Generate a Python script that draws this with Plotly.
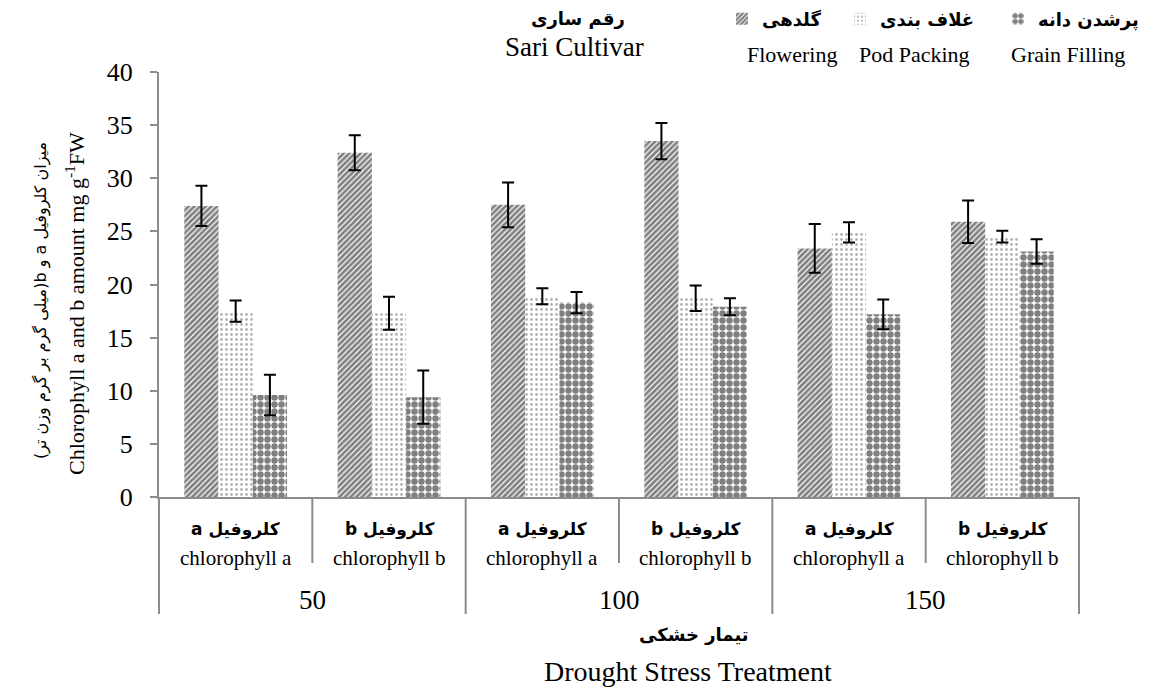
import plotly.graph_objects as go

# ---------------- data ----------------
x_keys = ["50-a", "50-b", "100-a", "100-b", "150-a", "150-b"]
inner_fa = ["کلروفیل a", "کلروفیل b", "کلروفیل a", "کلروفیل b", "کلروفیل a", "کلروفیل b"]
inner_en = ["chlorophyll a", "chlorophyll b", "chlorophyll a", "chlorophyll b", "chlorophyll a", "chlorophyll b"]
outer_labels = ["50", "100", "150"]
outer_pos = [0.5, 2.5, 4.5]

flowering = [27.4, 32.4, 27.5, 33.5, 23.4, 25.9]
flowering_err = [1.9, 1.65, 2.1, 1.7, 2.3, 2.0]
pod = [17.5, 17.3, 18.9, 18.7, 24.9, 24.5]
pod_err = [1.0, 1.55, 0.75, 1.2, 0.95, 0.55]
grain = [9.6, 9.4, 18.3, 17.9, 17.2, 23.1]
grain_err = [1.9, 2.5, 1.0, 0.8, 1.4, 1.15]

series_fa = ["گلدهی", "غلاف بندی", "پرشدن دانه"]
series_en = ["Flowering", "Pod Packing", "Grain Filling"]
y_ticks = [0, 5, 10, 15, 20, 25, 30, 35, 40]

# ---------------- layout helpers ----------------
OFF = 8  # page body margin
W, H = 1154 - OFF, 687 - OFF
ML, MR, MT, MB = 159 - OFF, 75, 72 - OFF, 190
PW, PH = W - ML - MR, H - MT - MB


def px_x(px):
    return (px - OFF - ML) / PW


def px_y(py):
    return (H - MB - (py - OFF)) / PH


SERIF = "Liberation Serif, DejaVu Sans, serif"
FA = "DejaVu Sans, Liberation Serif, serif"
RLE, PDF = "\u202b", "\u202c"

patterns = [
    dict(shape="/", fgcolor="black", bgcolor="white", size=4, solidity=0.7),
    dict(shape=".", fgcolor="#666666", bgcolor="white", size=5, solidity=0.24),
    dict(shape=".", fgcolor="black", bgcolor="white", size=7, solidity=0.66),
]
values = [flowering, pod, grain]
errors = [flowering_err, pod_err, grain_err]
legend_ids = ["legend", "legend2", "legend3"]

fig = go.Figure()
for i in range(3):
    fig.add_trace(go.Bar(
        x=x_keys, y=values[i], name="<b>" + series_fa[i] + "</b>",
        marker=dict(color="white", line=dict(width=0), pattern=patterns[i]),
        error_y=dict(type="data", array=errors[i], color="black", thickness=2, width=6),
        legend=legend_ids[i],
    ))

legend_px = [722, 840, 998]
leg_common = dict(font=dict(family=FA, size=18, color="black"), bgcolor="rgba(0,0,0,0)",
                  yanchor="middle", xanchor="left", y=px_y(19), itemwidth=30)
layout_leg = {}
for i, lid in enumerate(legend_ids):
    layout_leg[lid] = dict(leg_common, x=px_x(legend_px[i]))


def ann(x, y, text, size, family, xref="paper", xanchor="center", angle=0):
    return dict(xref=xref, yref="paper", x=x, y=y, xanchor=xanchor, yanchor="middle",
                showarrow=False, text=text, textangle=angle,
                font=dict(family=family, size=size, color="black"))


annotations = []
# legend english labels
eng_px = [745, 857, 1009]
for i in range(3):
    annotations.append(ann(px_x(eng_px[i]), px_y(55), series_en[i], 22, SERIF, xanchor="left"))
# title
annotations.append(ann(px_x(578), px_y(19), "<b>رقم ساری</b>", 18, FA))
annotations.append(ann(px_x(574), px_y(47), "Sari Cultivar", 27, SERIF))
# category labels
for i, k in enumerate(x_keys):
    annotations.append(ann(k, px_y(529), RLE + "<b>" + inner_fa[i] + "</b>" + PDF, 17, FA, xref="x"))
    annotations.append(ann(k, px_y(558), inner_en[i], 21, SERIF, xref="x"))
for lab, pos in zip(outer_labels, outer_pos):
    annotations.append(ann(pos, px_y(600), lab, 27, SERIF, xref="x"))
# axis titles
annotations.append(ann(px_x(694), px_y(634), "<b>تیمار خشکی</b>", 18, FA))
annotations.append(ann(px_x(688), px_y(671), "Drought Stress Treatment", 28, SERIF))
annotations.append(ann(px_x(41), px_y(300),
                       RLE + "میزان کلروفیل a و b(میلی گرم بر گرم وزن تر)" + PDF, 16, FA, angle=-90))
annotations.append(ann(px_x(75), px_y(304),
                       "Chlorophyll a and b amount mg g<sup>-1</sup>FW", 22, SERIF, angle=-90))

AX = "#8c8c8c"
shapes = []
shapes.append(dict(type="line", xref="paper", yref="paper", x0=0, x1=0, y0=0, y1=px_y(614),
                   line=dict(color=AX, width=2)))
for xv in [0.5, 2.5, 4.5]:
    shapes.append(dict(type="line", xref="x", yref="paper", x0=xv, x1=xv, y0=0, y1=px_y(563),
                       line=dict(color=AX, width=2)))
for xv in [1.5, 3.5]:
    shapes.append(dict(type="line", xref="x", yref="paper", x0=xv, x1=xv, y0=0, y1=px_y(614),
                       line=dict(color=AX, width=2)))
shapes.append(dict(type="line", xref="paper", yref="paper", x0=1, x1=1, y0=0, y1=px_y(614),
                   line=dict(color=AX, width=2)))

fig.update_layout(
    width=W, height=H,
    margin=dict(l=ML, r=MR, t=MT, b=MB, autoexpand=False),
    paper_bgcolor="white", plot_bgcolor="white",
    barmode="group", bargap=0.33, bargroupgap=0,
    showlegend=True,
    annotations=annotations, shapes=shapes,
    xaxis=dict(type="category", range=[-0.5, 5.5], showticklabels=False, ticks="",
               showline=True, linecolor=AX, linewidth=2, showgrid=False, zeroline=False,
               fixedrange=True),
    yaxis=dict(range=[0, 40], tickvals=y_ticks, ticks="outside", ticklen=7, tickcolor=AX,
               tickwidth=2, showline=True, linecolor=AX, linewidth=2, showgrid=False,
               zeroline=False, ticklabelstandoff=12,
               tickfont=dict(family=SERIF, size=26, color="black")),
    **layout_leg,
)

fig.write_html("out.html")
